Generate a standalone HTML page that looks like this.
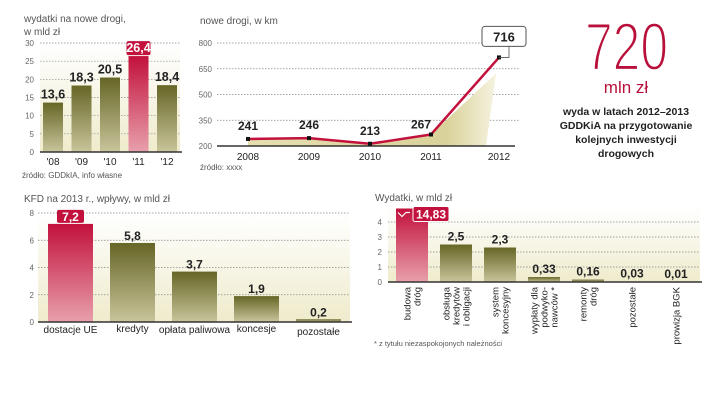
<!DOCTYPE html>
<html><head><meta charset="utf-8"><style>
html,body{margin:0;padding:0;background:#fff;}
svg{display:block;font-family:"Liberation Sans",sans-serif;}
</style></head><body>
<svg id="s" width="720" height="405" viewBox="0 0 720 405">
<defs>
<linearGradient id="olive" x1="0" y1="0" x2="0" y2="1"><stop offset="0" stop-color="#666626"/><stop offset="1" stop-color="#c9c59c"/></linearGradient>
<linearGradient id="red" x1="0" y1="0" x2="0" y2="1"><stop offset="0" stop-color="#c2113c"/><stop offset="1" stop-color="#e8a0ac"/></linearGradient>
<linearGradient id="bg" x1="0" y1="0" x2="0" y2="1"><stop offset="0" stop-color="#fff"/><stop offset="1" stop-color="#efebcc"/></linearGradient>
<linearGradient id="area" x1="0" y1="0" x2="1" y2="0"><stop offset="0" stop-color="#e6dfb0"/><stop offset="0.8" stop-color="#d9d29a"/><stop offset="1" stop-color="#f6f3e0"/></linearGradient>
</defs>
<g id="c1">
<text x="24" y="22" font-size="10" fill="#555">wydatki na nowe drogi,</text>
<text x="24" y="35" font-size="10" fill="#555">w mld zł</text>
<text x="22" y="178" font-size="8" fill="#555">źródło: GDDkIA, info własne</text>
</g>
<g id="c2">
<text x="200" y="24" font-size="10" fill="#555">nowe drogi, w km</text>
<text x="200" y="170" font-size="8" fill="#555">źródło: xxxx</text>
</g>
<g>
<text x="585" y="70" font-size="68" fill="#b8103a" stroke="#fff" stroke-width="2.2" paint-order="normal" textLength="83" lengthAdjust="spacingAndGlyphs" font-family="Liberation Sans Narrow,Liberation Sans,sans-serif">720</text>
<text x="626" y="93" font-size="17" fill="#b8103a" text-anchor="middle">mln zł</text>
<g font-size="10.5" font-weight="bold" fill="#222" text-anchor="middle">
<text x="626" y="115">wyda w latach 2012–2013</text>
<text x="626" y="129">GDDKiA na przygotowanie</text>
<text x="626" y="143">kolejnych inwestycji</text>
<text x="626" y="157">drogowych</text>
</g>
</g>
<g id="c3">
<text x="24" y="202" font-size="10" fill="#555">KFD na 2013 r.,  wpływy, w mld zł</text>
</g>
<g id="c4">
<text x="375" y="201" font-size="10" fill="#555">Wydatki, w mld zł</text>
<text x="374" y="346" font-size="7.5" fill="#555">* z tytułu  niezaspokojonych należności</text>
</g>
</svg>
<script>
const spendCats=["'08","'09","'10","'11","'12"];
const spendVals=[13.6,18.3,20.5,26.4,18.4];
const spendTicks=[0,5,10,15,20,25,30];
const roadYears=["2008","2009","2010","2011","2012"];
const roadVals=[241,246,213,267,716];
const roadTicks=[200,350,500,650,800];
const kfdCats=["dostacje UE","kredyty","opłata paliwowa","koncesje","pozostałe"];
const kfdVals=[7.2,5.8,3.7,1.9,0.2];
const kfdTicks=[0,2,4,6,8];
const expCats=[["budowa","dróg"],["obsługa","kredytów","i obligacji"],["system","koncesyjny"],["wypłaty dla","podwyko-","nawców *"],["remonty","dróg"],["pozostałe"],["prowizja BGK"]];
const expVals=[14.83,2.5,2.3,0.33,0.16,0.03,0.01];
const expLabels=["14,83","2,5","2,3","0,33","0,16","0,03","0,01"];
const expTicks=[0,1,2,3,4];

const NS="http://www.w3.org/2000/svg";
function mk(parent,tag,attrs,txt){const e=document.createElementNS(NS,tag);for(const k in attrs)e.setAttribute(k,attrs[k]);if(txt!==undefined)e.textContent=txt;parent.appendChild(e);return e;}
const fmt=v=>String(v).replace('.',',');

// chart 1
(function(){
const g=document.getElementById('c1');
const y=v=>152-v*(109/30);const x0=43,step=28.5,bw=20;
let r=mk(g,'rect',{x:40,y:43,width:140,height:109,fill:'url(#bg)'});

spendTicks.forEach(t=>{
 if(t>0){let l=mk(g,'line',{x1:40,x2:180,y1:y(t),y2:y(t),stroke:'#888','stroke-dasharray':'1.5,1.5','stroke-width':0.7});}
 let tx=mk(g,'text',{x:34,y:y(t)+3,'font-size':8,fill:'#666','text-anchor':'end'},t);
});
spendVals.forEach((v,i)=>{
 const bx=x0+i*step,hi=v===Math.max(...spendVals);
 let b=mk(g,'rect',{x:bx,y:y(v),width:bw,height:152-y(v),fill:hi?'url(#red)':'url(#olive)'});
 if(hi){let bb=mk(g,'rect',{x:bx-2,y:y(v)-15,width:bw+4,height:14,rx:2,fill:'#c2113c'});}
 let t=mk(g,'text',{x:bx+bw/2,y:y(v)-4,'font-size':12.5,'font-weight':'bold',fill:hi?'#fff':'#222','text-anchor':'middle'},fmt(v));
 let c=mk(g,'text',{x:bx+bw/2,y:165,'font-size':10,fill:'#222','text-anchor':'middle'},spendCats[i]);
});
let a=mk(g,'line',{x1:40,x2:182,y1:152,y2:152,stroke:'#333','stroke-width':1.5});
})();

// chart 2
(function(){
const g=document.getElementById('c2');
const y=v=>146-(v-200)*(103/600);const xs=i=>248+i*61+(i===4?7:0);
roadTicks.forEach(t=>{
 if(t>200){let l=mk(g,'line',{x1:217,x2:520,y1:y(t),y2:y(t),stroke:'#888','stroke-dasharray':'1.5,1.5','stroke-width':0.7});}
 let tx=mk(g,'text',{x:212,y:y(t)+3,'font-size':8,fill:'#666','text-anchor':'end'},t);
});
let pts=roadVals.map((v,i)=>[xs(i),y(v)]);
let ap='M'+pts[0][0]+','+(146)+' '+pts.slice(0,4).map(p=>'L'+p[0]+','+p[1]).join(' ')+' L'+(pts[4][0]-3)+','+(pts[4][1]+16)+' L'+(pts[4][0]-13)+',146 Z';
let ar=mk(g,'path',{d:ap,fill:'url(#area)'});
let ln=mk(g,'polyline',{points:pts.map(p=>p.join(',')).join(' '),fill:'none',stroke:'#c2113c','stroke-width':2.5});
let ax=mk(g,'line',{x1:217,x2:515,y1:146,y2:146,stroke:'#333','stroke-width':1.5});
pts.forEach((p,i)=>{
 let m=mk(g,'rect',{x:p[0]-2,y:p[1]-2,width:4,height:4,fill:'#111'});
 let yr=mk(g,'text',{x:p[0],y:160,'font-size':10,fill:'#222','text-anchor':'middle'},roadYears[i]);
 if(i<4){let t=mk(g,'text',{x:p[0]-(i===3?10:0),y:p[1]-(i===3?6:9),'font-size':12,'font-weight':'bold',fill:'#222','text-anchor':'middle'},roadVals[i]);}
 else{
  let bx=mk(g,'rect',{x:p[0]-17,y:p[1]-31,width:44,height:20,rx:3,fill:'#fff',stroke:'#555'});
  let cl=mk(g,'polyline',{points:(p[0])+','+(p[1])+' '+(p[0]+10)+','+(p[1])+' '+(p[0]+10)+','+(p[1]-11),fill:'none',stroke:'#555','stroke-width':0.8});
  let t=mk(g,'text',{x:p[0]+5,y:p[1]-16,'font-size':13,'font-weight':'bold',fill:'#222','text-anchor':'middle'},roadVals[i]);
 }
});
})();

// chart 3
(function(){
const g=document.getElementById('c3');
const y=v=>322-v*(109/8);const x0=48,step=62,bw=45;
let r=mk(g,'rect',{x:38,y:213,width:312,height:109,fill:'url(#bg)'});
kfdTicks.forEach(t=>{
 if(t>0){let l=mk(g,'line',{x1:38,x2:350,y1:y(t),y2:y(t),stroke:'#888','stroke-dasharray':'1.5,1.5','stroke-width':0.7});}
 let tx=mk(g,'text',{x:34,y:y(t)+3,'font-size':8,fill:'#666','text-anchor':'end'},t);
});
kfdVals.forEach((v,i)=>{
 const bx=x0+i*step,hi=i===0;
 let b=mk(g,'rect',{x:bx,y:y(v),width:bw,height:322-y(v),fill:hi?'url(#red)':'url(#olive)'});
 if(hi){let bb=mk(g,'rect',{x:bx+9,y:y(v)-14,width:27,height:13,rx:2,fill:'#c2113c'});}
 let t=mk(g,'text',{x:bx+bw/2,y:y(v)-3,'font-size':12,'font-weight':'bold',fill:hi?'#fff':'#222','text-anchor':'middle'},fmt(v));
 let c=mk(g,'text',{x:bx+bw/2,y:333+(i%2?-1:0)+(i===4?2:0),'font-size':10,fill:'#222','text-anchor':'middle'},kfdCats[i]);
});
let a=mk(g,'line',{x1:38,x2:352,y1:322,y2:322,stroke:'#333','stroke-width':1.5});
})();

// chart 4
(function(){
const g=document.getElementById('c4');
const y=v=>282-Math.min(v,4.9)*15;const x0=396,step=44,bw=32;
let r=mk(g,'rect',{x:388,y:208,width:312,height:74,fill:'url(#bg)'});
expTicks.forEach(t=>{
 if(t>0){let l=mk(g,'line',{x1:388,x2:700,y1:y(t),y2:y(t),stroke:'#888','stroke-dasharray':'1.5,1.5','stroke-width':0.7});}
 let tx=mk(g,'text',{x:382,y:y(t)+3,'font-size':8,fill:'#666','text-anchor':'end'},t);
});
expVals.forEach((v,i)=>{
 const bx=x0+i*step,hi=i===0,top=y(v);
 let b=mk(g,'rect',{x:bx,y:top,width:bw,height:282-top,fill:hi?'url(#red)':'url(#olive)'});
 if(hi){
  let br=mk(g,'polyline',{points:(bx+2)+','+(top+4)+' '+(bx+6)+','+(top+8)+' '+(bx+10)+','+(top+4)+' '+(bx+14)+','+(top+4),fill:'none',stroke:'#fff','stroke-width':1.2});
  let bb=mk(g,'rect',{x:bx+17,y:top-2,width:36,height:15,rx:2,fill:'#c2113c',stroke:'#fff'});
  let t=mk(g,'text',{x:bx+35,y:top+10,'font-size':12,'font-weight':'bold',fill:'#fff','text-anchor':'middle'},expLabels[i]);
 } else {
  let t=mk(g,'text',{x:bx+bw/2,y:top-4,'font-size':12,'font-weight':'bold',fill:'#222','text-anchor':'middle'},expLabels[i]);
 }
 const lines=expCats[i],n=lines.length;
 lines.forEach((s,j)=>{
  const lx=bx+bw/2+(j-(n-1)/2)*10+3.5;
  let c=mk(g,'text',{x:0,y:0,'font-size':9.5,fill:'#222','text-anchor':'end',transform:'translate('+lx+',287) rotate(-90)'},s);
 });
});
let a=mk(g,'line',{x1:388,x2:702,y1:282,y2:282,stroke:'#333','stroke-width':1.5});
})();
</script>
</body></html>
